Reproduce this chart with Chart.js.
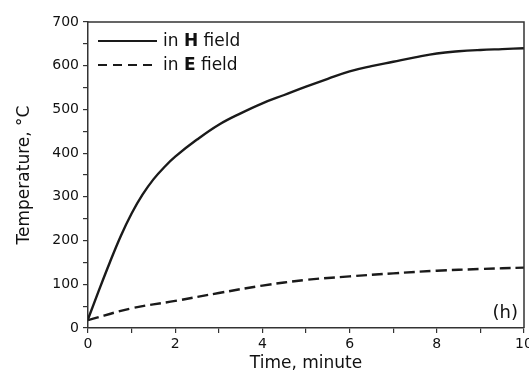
<!DOCTYPE html>
<html lang="en">
<head>
    <meta charset="UTF-8">
    <title>Temperature vs time</title>
    <style>
        html, body {
            margin: 0;
            padding: 0;
            background: #ffffff;
        }
        .chart-box {
            position: relative;
            width: 529px;
            height: 374px;
        }
    </style>
    <script src="https://cdn.jsdelivr.net/npm/chart.js"></script>
</head>
<body>
    <div class="chart-box">
        <canvas id="tempChart"></canvas>
    </div>

    <script>
        // values
        const times = [0, 0.25, 0.5, 0.75, 1, 1.25, 1.5, 1.75, 2, 2.5, 3, 3.5, 4, 4.5, 5, 5.5, 6, 6.5, 7, 7.5, 8, 8.5, 9, 9.5, 10];
        const hField = [20, 86, 150, 210, 262, 305, 340, 368, 392, 431, 465, 491, 514, 533, 552, 570, 587, 599, 609, 619, 628, 633, 636, 638, 640];
        const eTimes = [0, 1, 2, 3, 4, 5, 6, 7, 8, 9, 10];
        const eField = [18, 45, 62, 80, 97, 110, 118, 125, 131, 135, 138];
        const legendLabels = [['in ', 'H', ' field'], ['in ', 'E', ' field']];
        const panelTag = '(h)';

        const ink = '#1a1a1a';
        const textInk = '#111';
        const fontFamily = '"DejaVu Sans", Arial, sans-serif';

        function toPoints(xs, ys) {
            return xs.map((x, i) => ({ x: x, y: ys[i] }));
        }

        // box around the plot, hand-drawn legend and the panel tag
        const framePlugin = {
            id: 'frame',
            afterDraw(chart) {
                const ctx = chart.ctx;
                const a = chart.chartArea;
                ctx.save();
                ctx.strokeStyle = '#333';
                ctx.lineWidth = 1.5;
                ctx.beginPath();
                ctx.moveTo(a.left, a.top);
                ctx.lineTo(a.right, a.top);
                ctx.lineTo(a.right, a.bottom);
                ctx.stroke();

                // legend
                const rows = [41, 65];
                ctx.strokeStyle = ink;
                ctx.lineWidth = 2;
                rows.forEach((y, i) => {
                    ctx.setLineDash(i === 0 ? [] : [9, 6]);
                    ctx.beginPath();
                    ctx.moveTo(98, y);
                    ctx.lineTo(157, y);
                    ctx.stroke();
                    ctx.setLineDash([]);

                    let x = 163;
                    ctx.fillStyle = textInk;
                    ctx.textBaseline = 'middle';
                    legendLabels[i].forEach((part, j) => {
                        ctx.font = (j === 1 ? 'bold ' : '') + '17px ' + fontFamily;
                        ctx.fillText(part, x, y + 1);
                        x += ctx.measureText(part).width;
                    });
                });

                ctx.font = '18px ' + fontFamily;
                ctx.textAlign = 'right';
                ctx.textBaseline = 'alphabetic';
                ctx.fillText(panelTag, a.right - 6, a.bottom - 10);
                ctx.restore();
            }
        };

        new Chart(document.getElementById('tempChart'), {
            type: 'line',
            data: {
                datasets: [
                    {
                        label: 'in H field',
                        data: toPoints(times, hField),
                        borderColor: ink,
                        borderWidth: 2.4,
                        pointRadius: 0,
                        tension: 0.4,
                        fill: false
                    },
                    {
                        label: 'in E field',
                        data: toPoints(eTimes, eField),
                        borderColor: ink,
                        borderWidth: 2.4,
                        borderDash: [11, 5],
                        pointRadius: 0,
                        tension: 0.4,
                        fill: false
                    }
                ]
            },
            options: {
                responsive: true,
                maintainAspectRatio: false,
                animation: false,
                layout: {
                    padding: { top: 22, right: 5, left: 0, bottom: 0 }
                },
                plugins: {
                    legend: { display: false },
                    tooltip: { enabled: false }
                },
                scales: {
                    x: {
                        type: 'linear',
                        min: 0,
                        max: 10,
                        afterFit(scale) {
                            scale.height = 46;
                            scale.paddingLeft = 0;
                            scale.paddingRight = 0;
                        },
                        border: { display: true, color: '#333', width: 1.5 },
                        grid: { drawOnChartArea: false, tickLength: 5, color: '#333', lineWidth: 1.2 },
                        ticks: {
                            stepSize: 1,
                            autoSkip: false,
                            maxRotation: 0,
                            padding: 3,
                            color: textInk,
                            font: { family: fontFamily, size: 14 },
                            callback: v => (v % 2 === 0 ? v : '')
                        },
                        title: {
                            display: true,
                            text: 'Time, minute',
                            color: textInk,
                            padding: { top: 0, bottom: 0 },
                            font: { family: fontFamily, size: 17 }
                        }
                    },
                    y: {
                        min: 0,
                        max: 700,
                        afterFit(scale) {
                            scale.width = 88;
                        },
                        border: { display: true, color: '#333', width: 1.5 },
                        grid: { drawOnChartArea: false, tickLength: 5, color: '#333', lineWidth: 1.2 },
                        ticks: {
                            stepSize: 50,
                            autoSkip: false,
                            padding: 4,
                            color: textInk,
                            font: { family: fontFamily, size: 14 },
                            callback: v => (v % 100 === 0 ? v : '')
                        },
                        title: {
                            display: true,
                            text: 'Temperature, °C',
                            color: textInk,
                            padding: { top: 14, bottom: 0 },
                            font: { family: fontFamily, size: 17 }
                        }
                    }
                }
            },
            plugins: [framePlugin]
        });
    </script>
</body>
</html>
